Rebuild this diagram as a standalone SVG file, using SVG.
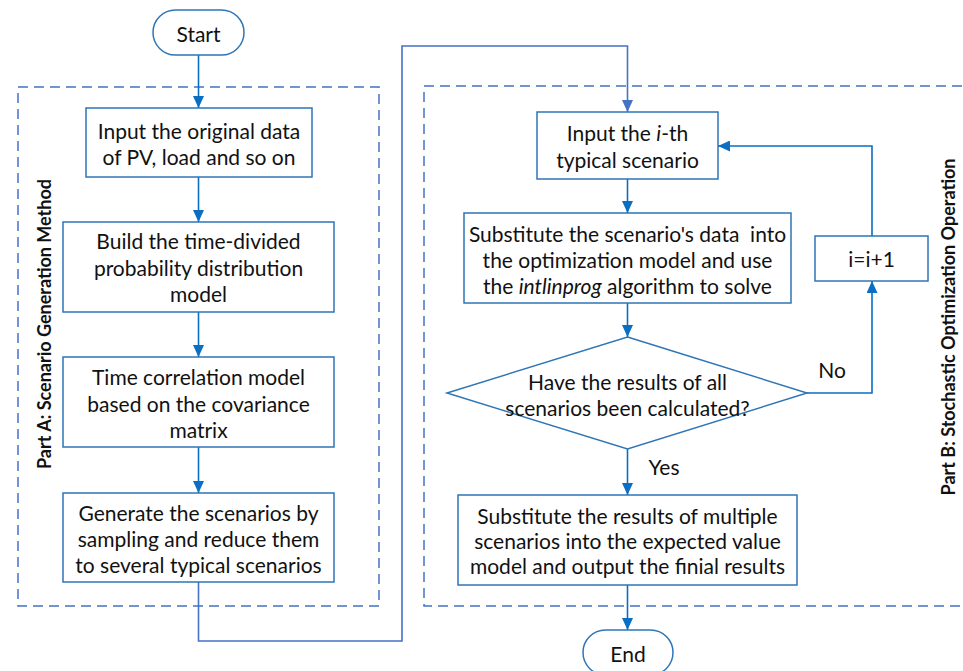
<svg xmlns="http://www.w3.org/2000/svg" width="963" height="671" viewBox="0 0 963 671">
  <style>
    .box { fill: #ffffff; stroke: #2e75b6; stroke-width: 1.5; }
    .panel { fill: none; stroke: #4472c4; stroke-width: 1.5; stroke-dasharray: 10 6; }
    .flow { fill: none; stroke: #0a6fc2; stroke-width: 1.6; }
    .link { fill: none; stroke: #4472c4; stroke-width: 1.6; }
    text { font-family: Lato, "Open Sans", "Liberation Sans", sans-serif; font-size: 21px; fill: #111111; }
    .c { text-anchor: middle; dominant-baseline: central; }
    .side { font-weight: bold; font-size: 18px; }
  </style>
  <defs>
    <marker id="arrow" viewBox="0 0 12 11" refX="12" refY="5.5" markerWidth="12" markerHeight="11" markerUnits="userSpaceOnUse" orient="auto">
      <path d="M0,0 L12,5.5 L0,11 z" fill="#0a6fc2"/>
    </marker>
    <marker id="arrow-link" viewBox="0 0 12 11" refX="12" refY="5.5" markerWidth="12" markerHeight="11" markerUnits="userSpaceOnUse" orient="auto">
      <path d="M0,0 L12,5.5 L0,11 z" fill="#4472c4"/>
    </marker>
  </defs>

  <!-- dashed panels -->
  <g id="panel-a">
    <rect class="panel" x="18" y="87" width="361" height="519"/>
    <text class="side c" transform="translate(44,324) rotate(-90)">Part A: Scenario Generation Method</text>
  </g>
  <g id="panel-b">
    <rect class="panel" x="424" y="86" width="560" height="520"/>
    <text class="side c" transform="translate(948,327) rotate(-90)">Part B: Stochastic Optimization Operation</text>
  </g>

  <!-- connectors -->
  <g id="connectors">
    <line class="flow" x1="198.5" y1="55" x2="198.5" y2="108" marker-end="url(#arrow)"/>
    <line class="flow" x1="198.5" y1="177" x2="198.5" y2="222" marker-end="url(#arrow)"/>
    <line class="flow" x1="198.5" y1="312" x2="198.5" y2="357" marker-end="url(#arrow)"/>
    <line class="flow" x1="198.5" y1="447" x2="198.5" y2="493" marker-end="url(#arrow)"/>
    <path class="link" d="M198.5,582 V641 H402 V46 H627.5 V112" marker-end="url(#arrow-link)"/>
    <line class="flow" x1="627.5" y1="179" x2="627.5" y2="213" marker-end="url(#arrow)"/>
    <line class="flow" x1="627.5" y1="303" x2="627.5" y2="337" marker-end="url(#arrow)"/>
    <line class="flow" x1="627.5" y1="449" x2="627.5" y2="495" marker-end="url(#arrow)"/>
    <path class="flow" d="M807,393 H872 V281" marker-end="url(#arrow)"/>
    <path class="flow" d="M872,236 V146 H718" marker-end="url(#arrow)"/>
    <line class="flow" x1="627.5" y1="585" x2="627.5" y2="630" marker-end="url(#arrow)"/>
    <text class="c" x="832" y="369">No</text>
    <text class="c" x="664" y="466">Yes</text>
  </g>

  <!-- Part A nodes -->
  <g id="start">
    <rect class="box" x="153" y="10" width="91" height="45" rx="22.5"/>
    <text class="c" x="198.5" y="33">Start</text>
  </g>
  <g id="input-data">
    <rect class="box" x="86" y="108" width="226" height="69"/>
    <text class="c" x="199" y="130">Input the original data</text>
    <text class="c" x="199" y="156">of PV, load and so on</text>
  </g>
  <g id="build-model">
    <rect class="box" x="63" y="222" width="271" height="90"/>
    <text class="c" x="198.5" y="240">Build the time-divided</text>
    <text class="c" x="198.5" y="267">probability distribution</text>
    <text class="c" x="198.5" y="293">model</text>
  </g>
  <g id="time-correlation">
    <rect class="box" x="63" y="357" width="271" height="90"/>
    <text class="c" x="198.5" y="376">Time correlation model</text>
    <text class="c" x="198.5" y="403">based on the covariance</text>
    <text class="c" x="198.5" y="429">matrix</text>
  </g>
  <g id="generate-scenarios">
    <rect class="box" x="63" y="493" width="271" height="89"/>
    <text class="c" x="198.5" y="512">Generate the scenarios by</text>
    <text class="c" x="198.5" y="538">sampling and reduce them</text>
    <text class="c" x="198.5" y="564">to several typical scenarios</text>
  </g>

  <!-- Part B nodes -->
  <g id="input-scenario">
    <rect class="box" x="537" y="112" width="181" height="67"/>
    <text class="c" x="627.5" y="132">Input the <tspan font-style="italic">i</tspan>-th</text>
    <text class="c" x="627.5" y="159">typical scenario</text>
  </g>
  <g id="solve">
    <rect class="box" x="464" y="213" width="327" height="90"/>
    <text class="c" x="627.5" y="233" xml:space="preserve">Substitute the scenario's data  into</text>
    <text class="c" x="627.5" y="259">the optimization model and use</text>
    <text class="c" x="627.5" y="285">the <tspan font-style="italic">intlinprog</tspan> algorithm to solve</text>
  </g>
  <g id="all-done">
    <polygon class="box" points="627.5,337 807,393 627.5,449 447,393"/>
    <text class="c" x="627.5" y="381">Have the results of all</text>
    <text class="c" x="627.5" y="407">scenarios been calculated?</text>
  </g>
  <g id="increment">
    <rect class="box" x="815" y="236" width="113" height="45"/>
    <text class="c" x="871.5" y="258">i=i+1</text>
  </g>
  <g id="expected-value">
    <rect class="box" x="458" y="495" width="339" height="90"/>
    <text class="c" x="627.5" y="515">Substitute the results of multiple</text>
    <text class="c" x="627.5" y="540">scenarios into the expected value</text>
    <text class="c" x="627.5" y="565">model and output the finial results</text>
  </g>
  <g id="end">
    <rect class="box" x="583" y="630" width="90" height="45" rx="22.5"/>
    <text class="c" x="628" y="653">End</text>
  </g>
</svg>
